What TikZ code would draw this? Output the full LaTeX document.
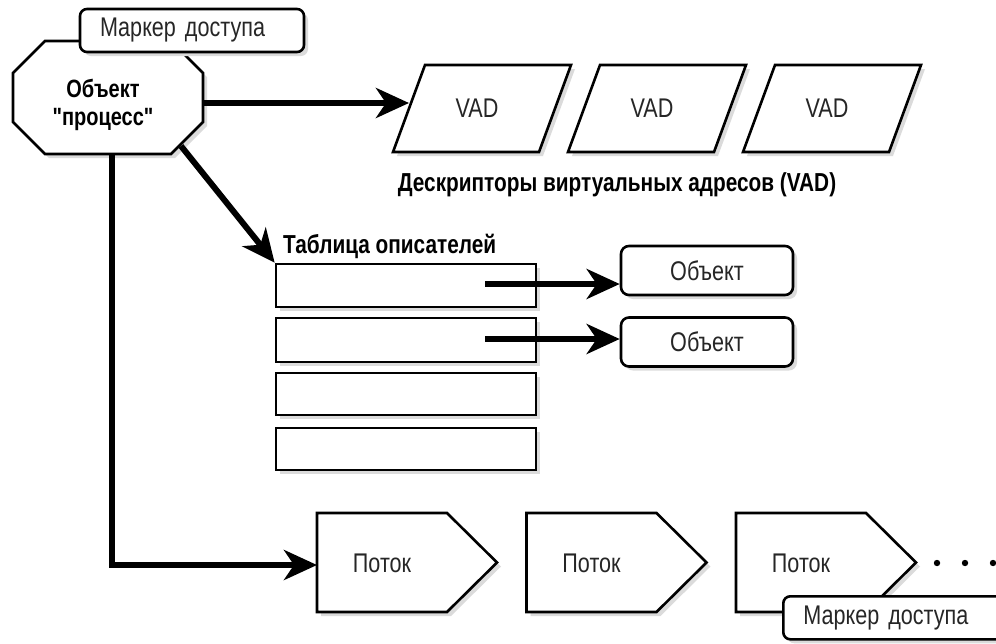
\documentclass[tikz,border=0pt]{standalone}
\usepackage{fontspec}
\setmainfont{Liberation Sans}[FakeStretch=0.8]
% same face without the TeX character mapping, so that " stays straight
\newfontfamily\plainquote{Liberation Sans}[FakeStretch=0.8]
\usetikzlibrary{arrows.meta,shadows}

\tikzset{
  outline/.style={draw=black, line width=2.6pt, fill=white, line join=miter},
  shade/.style={drop shadow={shadow xshift=4pt, shadow yshift=-4pt, fill=black!14, opacity=1}},
  link/.style={draw=black, line width=6pt, line join=miter,
    -{Stealth[length=33pt, width=30pt, inset=10pt]}},
  lbl/.style={font=\fontsize{27}{30}\selectfont, text=black!85, inner sep=0pt},
  blbl/.style={font=\fontsize{26}{30}\selectfont\bfseries, text=black, inner sep=0pt},
  plbl/.style={font=\fontsize{25}{30}\selectfont\bfseries, text=black, inner sep=0pt},
  marker/.style={outline, shade, rounded corners=7pt, minimum height=43pt,
    inner xsep=20pt, inner ysep=0pt, text width=184pt, align=left,
    font=\fontsize{27}{30}\selectfont, text=black!85},
  objbox/.style={outline, shade, rounded corners=8pt, minimum width=172pt,
    minimum height=49pt, inner sep=0pt, font=\fontsize{27}{30}\selectfont, text=black!85},
  rowbox/.style={outline, shade, minimum width=260pt, minimum height=43pt, inner sep=0pt},
}

\begin{document}
\begin{tikzpicture}[x=1pt, y=-1pt]
\useasboundingbox (0,0) rectangle (996,643);
\clip (0,0) rectangle (996,643);

% process object (octagon)
\draw[outline, shade] (45,41) -- (171,41) -- (203,73) -- (203,122) -- (171,154)
  -- (45,154) -- (13,122) -- (13,73) -- cycle;
\node[plbl] (procA) at (103,88) {Объект};
\node[plbl] (procB) at (103,119) {{\plainquote\bfseries"}процесс{\plainquote\bfseries"}};
\coordinate (procE) at (203,103);
\coordinate (procSE) at (181,146);
\coordinate (procS) at (112,154);

% access token of the process
\node[marker] (tokA) at (192,30.5) {Маркер доступа};

% virtual address descriptors
\foreach \i in {0,1,2} {
  \draw[outline, shade] (393+175*\i,152) -- (425+175*\i,65) -- (571+175*\i,65)
    -- (539+175*\i,152) -- cycle;
  \node[lbl] (vad\i) at (477+175*\i,108) {VAD};
}
\coordinate (vadW) at (409,103);
\node[blbl] (vadcap) at (617,185) {Дескрипторы виртуальных адресов (VAD)};

% handle table
\node[blbl, anchor=base west] (tabcap) at (283,253) {Таблица описателей};
\node[rowbox] (row1) at (406,285.5) {};
\node[rowbox, minimum height=44pt] (row2) at (406,340) {};
\node[rowbox, minimum height=42pt] (row3) at (406,394) {};
\node[rowbox, minimum height=42pt] (row4) at (406,449) {};
\coordinate (h1) at (485,284);
\coordinate (h2) at (485,339);

% referenced objects
\node[objbox] (obj1) at (707,270.5) {Объект};
\node[objbox] (obj2) at (707,342) {Объект};

% threads
\foreach \i/\x in {1/317,2/526.5,3/736} {
  \draw[outline, shade] (\x,513) -- (\x+130,513) -- (\x+180,562.5) -- (\x+130,612)
    -- (\x,612) -- cycle;
  \node[lbl] (thr\i) at (\x+65,563) {Поток};
  \coordinate (thrW\i) at (\x,565);
}
\foreach \x in {937,965,993} \fill (\x,563) circle (3.2pt);

% access token of a thread
\node[marker, anchor=north west] (tokB) at (782,595) {Маркер доступа};

% connectors
\draw[link] (procE) -- (vadW);
\draw[link] (procSE) -- (row1.north west);
\draw[link] (procS) |- (thrW1);
\draw[link] (h1) -- (h1 -| obj1.west);
\draw[link] (h2) -- (h2 -| obj2.west);
\end{tikzpicture}
\end{document}
